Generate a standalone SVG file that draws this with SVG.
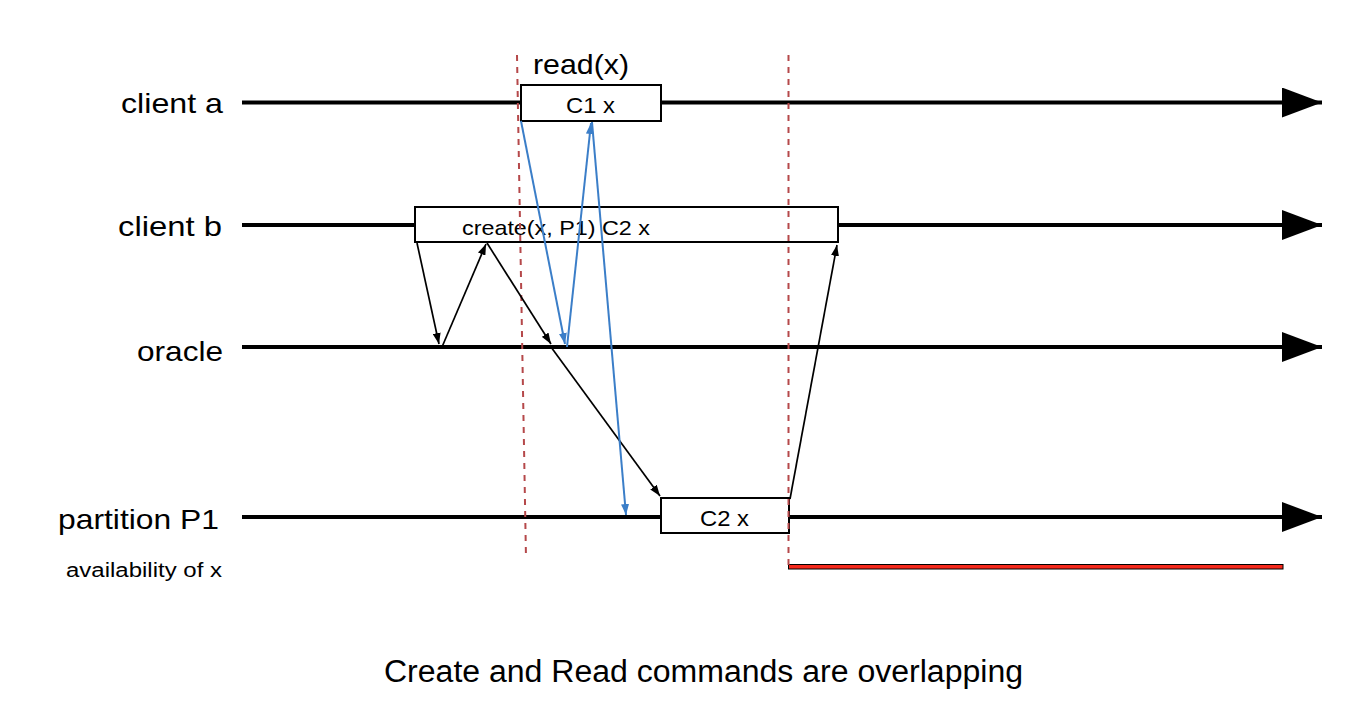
<svg xmlns="http://www.w3.org/2000/svg" width="1366" height="708" viewBox="0 0 1366 708">
<style>
text{font-family:"Liberation Sans",Arial,Helvetica,sans-serif;fill:#000}
.tl{stroke:#000;stroke-width:4;fill:none}
.box{fill:#fff;stroke:#000;stroke-width:2}
.blk{stroke:#000;stroke-width:1.7;fill:none;marker-end:url(#ab)}
.blu{stroke:#3b7ec8;stroke-width:2;fill:none;marker-end:url(#au)}
.dash{stroke:#b5484a;stroke-width:2;stroke-dasharray:6 6;fill:none}
</style>
<defs>
<marker id="ab" viewBox="0 0 11 8" refX="11" refY="4" markerWidth="11" markerHeight="8" markerUnits="userSpaceOnUse" orient="auto"><path d="M0,0 L11,4 L0,8 z" fill="#000"/></marker>
<marker id="au" viewBox="0 0 11 8" refX="11" refY="4" markerWidth="11" markerHeight="8" markerUnits="userSpaceOnUse" orient="auto"><path d="M0,0 L11,4 L0,8 z" fill="#3b7ec8"/></marker>
<marker id="big" viewBox="0 0 40 30" refX="40" refY="15" markerWidth="40" markerHeight="30" markerUnits="userSpaceOnUse" orient="auto"><path d="M0,0 L40,15 L0,30 z" fill="#000"/></marker>
</defs>
<g id="timelines">
<line class="tl" x1="242" y1="102.5" x2="1322" y2="102.5" marker-end="url(#big)"/>
<line class="tl" x1="242" y1="225" x2="1322" y2="225" marker-end="url(#big)"/>
<line class="tl" x1="242" y1="347" x2="1322" y2="347" marker-end="url(#big)"/>
<line class="tl" x1="242" y1="517" x2="1322" y2="517" marker-end="url(#big)"/>
</g>
<g id="labels">
<text x="121" y="113" font-size="28" textLength="102" lengthAdjust="spacingAndGlyphs">client a</text>
<text x="118" y="236" font-size="28" textLength="104" lengthAdjust="spacingAndGlyphs">client b</text>
<text x="137" y="361" font-size="28" textLength="86" lengthAdjust="spacingAndGlyphs">oracle</text>
<text x="58" y="529" font-size="28" textLength="161" lengthAdjust="spacingAndGlyphs">partition P1</text>
<text x="66" y="577" font-size="20" textLength="156" lengthAdjust="spacingAndGlyphs">availability of x</text>
</g>
<g id="read-label"><text x="533" y="74" font-size="28" textLength="96" lengthAdjust="spacingAndGlyphs">read(x)</text></g>
<g id="node-c1"><rect class="box" x="521" y="85" width="140" height="36"/><text x="566" y="113" font-size="22" textLength="49" lengthAdjust="spacingAndGlyphs">C1 x</text></g>
<g id="node-create"><rect class="box" x="415" y="207" width="423" height="35"/><text x="462" y="235" font-size="21" textLength="188" lengthAdjust="spacingAndGlyphs">create(x, P1) C2 x</text></g>
<g id="node-c2"><rect class="box" x="661" y="498" width="128" height="35"/><text x="700" y="526" font-size="22" textLength="49" lengthAdjust="spacingAndGlyphs">C2 x</text></g>
<g id="availability"><rect x="788.5" y="564.5" width="494.5" height="4.5" fill="#f5291c" stroke="#000" stroke-width="1"/></g>
<g id="markers-dashed">
<line class="dash" x1="517" y1="55" x2="526" y2="558"/>
<line class="dash" x1="788.5" y1="55" x2="788.5" y2="565"/>
</g>
<g id="connectors">
<line class="blk" x1="417" y1="243" x2="439" y2="344"/>
<line class="blk" x1="442" y1="347" x2="486" y2="244"/>
<line class="blk" x1="487" y1="243" x2="551" y2="344"/>
<line class="blk" x1="551" y1="347" x2="660" y2="496"/>
<line class="blk" x1="790" y1="499" x2="837" y2="245"/>
<line class="blu" x1="521" y1="121" x2="565" y2="344"/>
<line class="blu" x1="567" y1="347" x2="591" y2="123"/>
<line class="blu" x1="592" y1="122" x2="626" y2="515"/>
</g>
<g id="caption"><text x="384" y="682" font-size="31" textLength="639" lengthAdjust="spacingAndGlyphs">Create and Read commands are overlapping</text></g>
</svg>
